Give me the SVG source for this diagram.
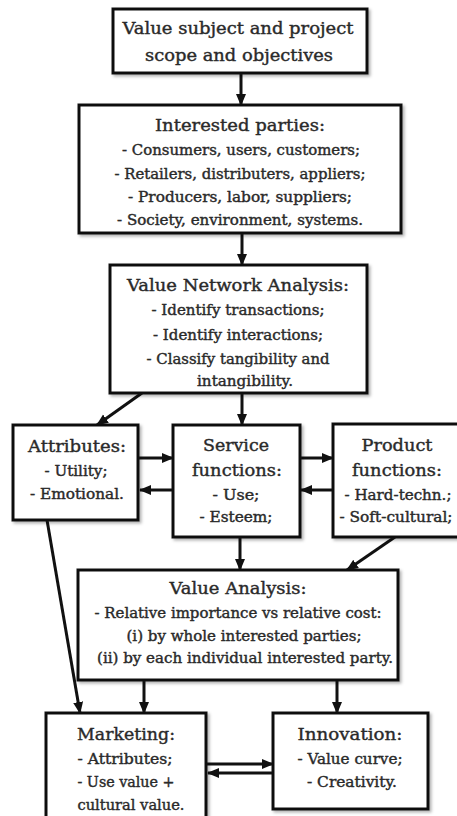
<svg xmlns="http://www.w3.org/2000/svg" width="457" height="816" viewBox="0 0 457 816">
<defs>
<filter id="sh" x="-10%" y="-10%" width="130%" height="130%">
<feDropShadow dx="2" dy="2" stdDeviation="1.5" flood-color="#000" flood-opacity="0.3"/>
</filter>
<marker id="ah" markerUnits="userSpaceOnUse" markerWidth="12" markerHeight="12" viewBox="0 0 12 12" refX="11" refY="6" orient="auto">
<path d="M0,1 L12,6 L0,11 Z" fill="#111"/>
</marker>
<style>
.box{fill:#fff;stroke:#111;stroke-width:3;filter:url(#sh)}
.h{font-family:"DejaVu Serif","Liberation Serif",serif;font-size:17px;fill:#2a2a2a;stroke:#2a2a2a;stroke-width:0.4;text-anchor:middle}
.t{font-family:"DejaVu Serif","Liberation Serif",serif;font-size:14px;fill:#2a2a2a;stroke:#2a2a2a;stroke-width:0.4;text-anchor:middle}
.c{stroke:#111;stroke-width:3;fill:none;marker-end:url(#ah)}
</style>
</defs>
<rect width="457" height="816" fill="#fff"/>
<g id="connectors">
<line class="c" x1="241" y1="73" x2="241" y2="105"/>
<line class="c" x1="242" y1="233" x2="242" y2="265"/>
<line class="c" x1="142" y1="393" x2="97" y2="425"/>
<line class="c" x1="242" y1="393" x2="242" y2="425"/>
<line class="c" x1="139" y1="458" x2="173" y2="458"/>
<line class="c" x1="173" y1="490" x2="140" y2="490"/>
<line class="c" x1="300" y1="458" x2="333" y2="458"/>
<line class="c" x1="333" y1="490" x2="301" y2="490"/>
<line class="c" x1="240" y1="537" x2="240" y2="570"/>
<line class="c" x1="395" y1="537" x2="347" y2="570"/>
<line class="c" x1="47" y1="520" x2="80" y2="713"/>
<line class="c" x1="144" y1="680" x2="144" y2="713"/>
<line class="c" x1="337" y1="680" x2="337" y2="713"/>
<line class="c" x1="206" y1="764" x2="273" y2="764"/>
<line class="c" x1="273" y1="773" x2="208" y2="773"/>
</g>
<g id="scope">
<rect class="box" x="113" y="9" width="254" height="64"/>
<text class="h" x="238" y="34" textLength="231" lengthAdjust="spacingAndGlyphs">Value subject and project</text>
<text class="h" x="239" y="61" textLength="188" lengthAdjust="spacingAndGlyphs">scope and objectives</text>
</g>
<g id="parties">
<rect class="box" x="79" y="105" width="322" height="128"/>
<text class="h" x="240" y="131" textLength="170" lengthAdjust="spacingAndGlyphs">Interested parties:</text>
<text class="t" x="241" y="155" textLength="238" lengthAdjust="spacingAndGlyphs">- Consumers, users, customers;</text>
<text class="t" x="240" y="179" textLength="251" lengthAdjust="spacingAndGlyphs">- Retailers, distributers, appliers;</text>
<text class="t" x="240" y="202" textLength="224" lengthAdjust="spacingAndGlyphs">- Producers, labor, suppliers;</text>
<text class="t" x="240" y="225" textLength="246" lengthAdjust="spacingAndGlyphs">- Society, environment, systems.</text>
</g>
<g id="vna">
<rect class="box" x="110" y="265" width="257" height="128"/>
<text class="h" x="238" y="291" textLength="222" lengthAdjust="spacingAndGlyphs">Value Network Analysis:</text>
<text class="t" x="238" y="315" textLength="173" lengthAdjust="spacingAndGlyphs">- Identify transactions;</text>
<text class="t" x="238" y="340" textLength="170" lengthAdjust="spacingAndGlyphs">- Identify interactions;</text>
<text class="t" x="238" y="364" textLength="183" lengthAdjust="spacingAndGlyphs">- Classify tangibility and</text>
<text class="t" x="245" y="386" textLength="96" lengthAdjust="spacingAndGlyphs">intangibility.</text>
</g>
<g id="attributes">
<rect class="box" x="13" y="425" width="125" height="95"/>
<text class="h" x="77" y="452" textLength="98" lengthAdjust="spacingAndGlyphs">Attributes:</text>
<text class="t" x="76" y="476" textLength="63" lengthAdjust="spacingAndGlyphs">- Utility;</text>
<text class="t" x="77" y="499" textLength="94" lengthAdjust="spacingAndGlyphs">- Emotional.</text>
</g>
<g id="service">
<rect class="box" x="173" y="425" width="127" height="112"/>
<text class="h" x="236" y="451" textLength="66" lengthAdjust="spacingAndGlyphs">Service</text>
<text class="h" x="237" y="476" textLength="90" lengthAdjust="spacingAndGlyphs">functions:</text>
<text class="t" x="236" y="500" textLength="47" lengthAdjust="spacingAndGlyphs">- Use;</text>
<text class="t" x="236" y="522" textLength="73" lengthAdjust="spacingAndGlyphs">- Esteem;</text>
</g>
<g id="product">
<rect class="box" x="333" y="424" width="130" height="113"/>
<text class="h" x="397" y="451" textLength="71" lengthAdjust="spacingAndGlyphs">Product</text>
<text class="h" x="397" y="476" textLength="90" lengthAdjust="spacingAndGlyphs">functions:</text>
<text class="t" x="398" y="500" textLength="107" lengthAdjust="spacingAndGlyphs">- Hard-techn.;</text>
<text class="t" x="396" y="522" textLength="113" lengthAdjust="spacingAndGlyphs">- Soft-cultural;</text>
</g>
<g id="value-analysis">
<rect class="box" x="78" y="570" width="320" height="110"/>
<text class="h" x="238" y="594" textLength="137" lengthAdjust="spacingAndGlyphs">Value Analysis:</text>
<text class="t" x="238" y="618" textLength="287" lengthAdjust="spacingAndGlyphs">- Relative importance vs relative cost:</text>
<text class="t" x="244" y="641" textLength="235" lengthAdjust="spacingAndGlyphs">(i) by whole interested parties;</text>
<text class="t" x="245" y="663" textLength="296" lengthAdjust="spacingAndGlyphs">(ii) by each individual interested party.</text>
</g>
<g id="marketing">
<rect class="box" x="46" y="713" width="160" height="115"/>
<text class="h" x="126" y="740" textLength="98" lengthAdjust="spacingAndGlyphs">Marketing:</text>
<text class="t" x="125" y="764" textLength="95" lengthAdjust="spacingAndGlyphs">- Attributes;</text>
<text class="t" x="126" y="787" textLength="97" lengthAdjust="spacingAndGlyphs">- Use value +</text>
<text class="t" x="131" y="810" textLength="107" lengthAdjust="spacingAndGlyphs">cultural value.</text>
</g>
<g id="innovation">
<rect class="box" x="273" y="713" width="155" height="96"/>
<text class="h" x="350" y="740" textLength="105" lengthAdjust="spacingAndGlyphs">Innovation:</text>
<text class="t" x="350" y="764" textLength="105" lengthAdjust="spacingAndGlyphs">- Value curve;</text>
<text class="t" x="352" y="787" textLength="90" lengthAdjust="spacingAndGlyphs">- Creativity.</text>
</g>
</svg>
